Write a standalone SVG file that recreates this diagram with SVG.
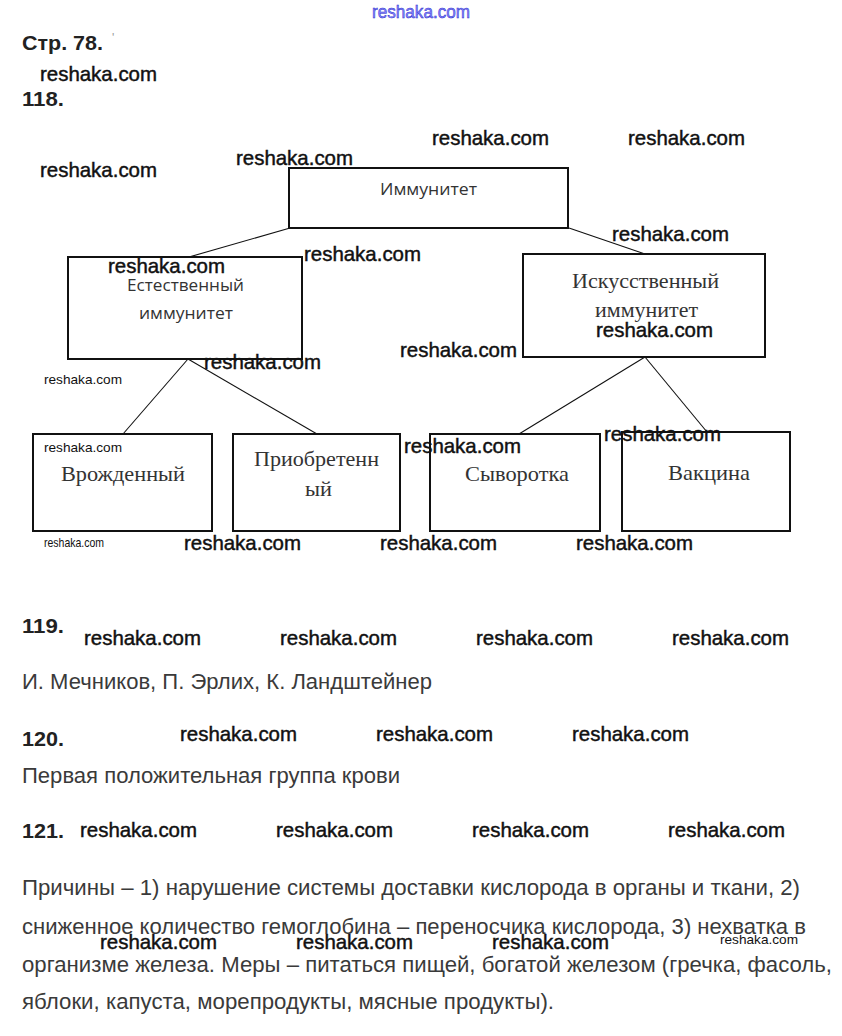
<svg xmlns="http://www.w3.org/2000/svg" width="842" height="1036" viewBox="0 0 842 1036">
<style>
.bg{fill:#ffffff}
.box{fill:#ffffff;stroke:#111;stroke-width:2}
.con{stroke:#111;stroke-width:1.1;fill:none}
.wm{font-family:"Liberation Sans",Arial,sans-serif;font-size:21px;fill:#111;stroke:#111;stroke-width:0.45}
.wms{font-family:"Liberation Sans",Arial,sans-serif;font-size:13px;fill:#111}
.hd{font-family:"Liberation Sans",Arial,sans-serif;font-size:21px;font-weight:bold;fill:#222}
.body{font-family:"Liberation Sans",Arial,sans-serif;font-size:22px;fill:#3a3a3a}
.ns{font-family:"Open Sans","Noto Sans",sans-serif;font-size:16px;fill:#333}
.sf{font-family:"Liberation Serif","Times New Roman",serif;font-size:21px;fill:#333}
</style>
<rect class="bg" x="0" y="0" width="842" height="1036"/>

<text x="372" y="18" font-family="Liberation Sans,sans-serif" font-size="18" fill="#8a8aff" stroke="#2a2acc" stroke-width="0.5" textLength="98" lengthAdjust="spacingAndGlyphs">reshaka.com</text>

<text class="hd" x="22" y="50" textLength="81" lengthAdjust="spacingAndGlyphs">Стр. 78.</text>
<text x="112" y="42" font-family="Liberation Sans,sans-serif" font-size="12" fill="#999">'</text>
<text class="hd" x="22" y="106" textLength="42" lengthAdjust="spacingAndGlyphs">118.</text>

<g id="connectors">
<line class="con" x1="290" y1="228" x2="189" y2="257"/>
<line class="con" x1="569" y1="228" x2="645" y2="254"/>
<line class="con" x1="188" y1="359" x2="123" y2="434"/>
<line class="con" x1="188" y1="359" x2="317" y2="434"/>
<line class="con" x1="645" y1="357" x2="519" y2="434"/>
<line class="con" x1="645" y1="357" x2="707" y2="432"/>
</g>

<g id="immunity">
<rect class="box" x="289" y="168" width="279" height="60"/>
<text class="ns" x="380" y="195" textLength="97" lengthAdjust="spacingAndGlyphs">Иммунитет</text>
</g>
<g id="natural">
<rect class="box" x="68" y="257" width="234" height="102"/>
<text class="ns" x="127" y="291" textLength="117" lengthAdjust="spacingAndGlyphs">Естественный</text>
<text class="ns" x="139" y="319" textLength="94" lengthAdjust="spacingAndGlyphs">иммунитет</text>
</g>
<g id="artificial">
<rect class="box" x="523" y="254" width="242" height="103"/>
<text class="sf" x="572" y="288" textLength="147" lengthAdjust="spacingAndGlyphs">Искусственный</text>
<text class="sf" x="595" y="317" textLength="103" lengthAdjust="spacingAndGlyphs">иммунитет</text>
</g>
<g id="innate">
<rect class="box" x="33" y="434" width="179" height="97"/>
<text class="sf" x="61" y="481" textLength="124" lengthAdjust="spacingAndGlyphs">Врожденный</text>
</g>
<g id="acquired">
<rect class="box" x="233" y="434" width="167" height="97"/>
<text class="sf" x="254" y="466" textLength="125" lengthAdjust="spacingAndGlyphs">Приобретенн</text>
<text class="sf" x="305" y="496" textLength="27" lengthAdjust="spacingAndGlyphs">ый</text>
</g>
<g id="serum">
<rect class="box" x="430" y="434" width="170" height="97"/>
<text class="sf" x="465" y="481" textLength="104" lengthAdjust="spacingAndGlyphs">Сыворотка</text>
</g>
<g id="vaccine">
<rect class="box" x="622" y="432" width="168" height="99"/>
<text class="sf" x="668" y="480" textLength="82" lengthAdjust="spacingAndGlyphs">Вакцина</text>
</g>

<g id="watermarks">
<text class="wm" x="40" y="81" textLength="117" lengthAdjust="spacingAndGlyphs">reshaka.com</text>
<text class="wm" x="432" y="145" textLength="117" lengthAdjust="spacingAndGlyphs">reshaka.com</text>
<text class="wm" x="628" y="145" textLength="117" lengthAdjust="spacingAndGlyphs">reshaka.com</text>
<text class="wm" x="40" y="177" textLength="117" lengthAdjust="spacingAndGlyphs">reshaka.com</text>
<text class="wm" x="236" y="165" textLength="117" lengthAdjust="spacingAndGlyphs">reshaka.com</text>
<text class="wm" x="612" y="241" textLength="117" lengthAdjust="spacingAndGlyphs">reshaka.com</text>
<text class="wm" x="304" y="261" textLength="117" lengthAdjust="spacingAndGlyphs">reshaka.com</text>
<text class="wm" x="108" y="273" textLength="117" lengthAdjust="spacingAndGlyphs">reshaka.com</text>
<text class="wm" x="596" y="337" textLength="117" lengthAdjust="spacingAndGlyphs">reshaka.com</text>
<text class="wm" x="400" y="357" textLength="117" lengthAdjust="spacingAndGlyphs">reshaka.com</text>
<text class="wm" x="204" y="369" textLength="117" lengthAdjust="spacingAndGlyphs">reshaka.com</text>
<text class="wms" x="44" y="384" textLength="78" lengthAdjust="spacingAndGlyphs">reshaka.com</text>
<text class="wms" x="44" y="452" textLength="78" lengthAdjust="spacingAndGlyphs">reshaka.com</text>
<text class="wm" x="404" y="453" textLength="117" lengthAdjust="spacingAndGlyphs">reshaka.com</text>
<text class="wm" x="604" y="441" textLength="117" lengthAdjust="spacingAndGlyphs">reshaka.com</text>
<text class="wms" x="44" y="547" font-size="10" textLength="60" lengthAdjust="spacingAndGlyphs">reshaka.com</text>
<text class="wm" x="184" y="550" textLength="117" lengthAdjust="spacingAndGlyphs">reshaka.com</text>
<text class="wm" x="380" y="550" textLength="117" lengthAdjust="spacingAndGlyphs">reshaka.com</text>
<text class="wm" x="576" y="550" textLength="117" lengthAdjust="spacingAndGlyphs">reshaka.com</text>
<text class="wm" x="84" y="645" textLength="117" lengthAdjust="spacingAndGlyphs">reshaka.com</text>
<text class="wm" x="280" y="645" textLength="117" lengthAdjust="spacingAndGlyphs">reshaka.com</text>
<text class="wm" x="476" y="645" textLength="117" lengthAdjust="spacingAndGlyphs">reshaka.com</text>
<text class="wm" x="672" y="645" textLength="117" lengthAdjust="spacingAndGlyphs">reshaka.com</text>
<text class="wm" x="180" y="741" textLength="117" lengthAdjust="spacingAndGlyphs">reshaka.com</text>
<text class="wm" x="376" y="741" textLength="117" lengthAdjust="spacingAndGlyphs">reshaka.com</text>
<text class="wm" x="572" y="741" textLength="117" lengthAdjust="spacingAndGlyphs">reshaka.com</text>
<text class="wm" x="80" y="837" textLength="117" lengthAdjust="spacingAndGlyphs">reshaka.com</text>
<text class="wm" x="276" y="837" textLength="117" lengthAdjust="spacingAndGlyphs">reshaka.com</text>
<text class="wm" x="472" y="837" textLength="117" lengthAdjust="spacingAndGlyphs">reshaka.com</text>
<text class="wm" x="668" y="837" textLength="117" lengthAdjust="spacingAndGlyphs">reshaka.com</text>
<text class="wm" x="100" y="949" textLength="117" lengthAdjust="spacingAndGlyphs">reshaka.com</text>
<text class="wm" x="296" y="949" textLength="117" lengthAdjust="spacingAndGlyphs">reshaka.com</text>
<text class="wm" x="492" y="949" textLength="117" lengthAdjust="spacingAndGlyphs">reshaka.com</text>
<text class="wms" x="720" y="944" textLength="78" lengthAdjust="spacingAndGlyphs">reshaka.com</text>
</g>

<text class="hd" x="22" y="633" textLength="42" lengthAdjust="spacingAndGlyphs">119.</text>
<text class="body" x="22" y="689" textLength="410" lengthAdjust="spacingAndGlyphs">И. Мечников, П. Эрлих, К. Ландштейнер</text>
<text class="hd" x="22" y="746" textLength="42" lengthAdjust="spacingAndGlyphs">120.</text>
<text class="body" x="22" y="783" textLength="378" lengthAdjust="spacingAndGlyphs">Первая положительная группа крови</text>
<text class="hd" x="22" y="838" textLength="42" lengthAdjust="spacingAndGlyphs">121.</text>
<text class="body" x="22" y="895" textLength="778" lengthAdjust="spacingAndGlyphs">Причины – 1) нарушение системы доставки кислорода в органы и ткани, 2)</text>
<text class="body" x="22" y="934" textLength="784" lengthAdjust="spacingAndGlyphs">сниженное количество гемоглобина – переносчика кислорода, 3) нехватка в</text>
<text class="body" x="22" y="972" textLength="810" lengthAdjust="spacingAndGlyphs">организме железа. Меры – питаться пищей, богатой железом (гречка, фасоль,</text>
<text class="body" x="22" y="1009" textLength="532" lengthAdjust="spacingAndGlyphs">яблоки, капуста, морепродукты, мясные продукты).</text>
</svg>
